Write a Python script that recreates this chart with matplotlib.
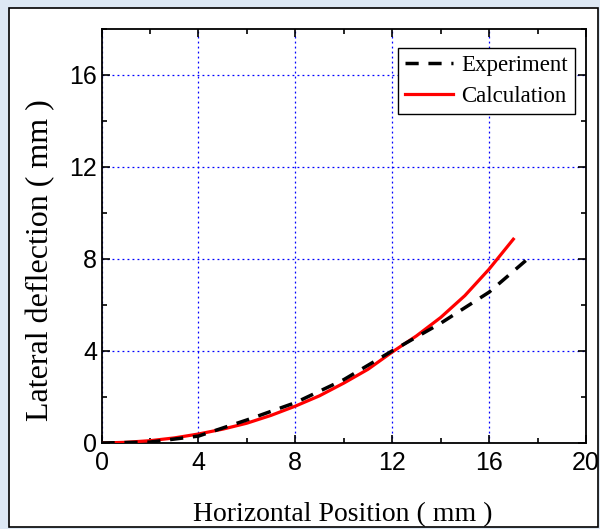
import matplotlib.pyplot as plt
from matplotlib.patches import Rectangle
from matplotlib.ticker import MultipleLocator

# measured lateral deflection vs horizontal position (mm)
exp_x = [0, 2, 4, 6, 8, 10, 12, 14, 16, 17.6]
exp_y = [0, 0.04, 0.3, 1.0, 1.75, 2.75, 4.0, 5.2, 6.55, 8.0]

# calculated deflection (mm)
calc_x = [0, 1, 2, 3, 4, 5, 6, 7, 8, 9, 10, 11, 12, 13, 14, 15, 16, 17]
calc_y = [0, 0.03, 0.1, 0.22, 0.39, 0.6, 0.86, 1.2, 1.6, 2.05, 2.6, 3.2,
          3.95, 4.65, 5.45, 6.4, 7.55, 8.85]

x_ticks = [0, 4, 8, 12, 16, 20]
y_ticks = [0, 4, 8, 12, 16]


def main():
    fig = plt.figure(figsize=(6, 5.29), dpi=100, facecolor='#dde8f4')
    # white panel with a thin black frame
    fig.patches.append(Rectangle((8.5 / 600, 2.5 / 529), 589 / 600, 519 / 529,
                                 transform=fig.transFigure, facecolor='white',
                                 edgecolor='black', linewidth=1.2, zorder=-5))

    ax = fig.add_axes([101.5 / 600, 86 / 529, 484.5 / 600, 414.5 / 529])
    ax.plot(calc_x, calc_y, color='red', lw=2.3, label='Calculation', zorder=3)
    ax.plot(exp_x, exp_y, color='black', lw=2.5, dashes=(3.8, 2.8), label='Experiment', zorder=4)

    ax.set_xlim(0, 20)
    ax.set_ylim(0, 18)
    ax.set_xticks(x_ticks)
    ax.set_yticks(y_ticks)
    ax.xaxis.set_minor_locator(MultipleLocator(2))
    ax.yaxis.set_minor_locator(MultipleLocator(2))
    ax.tick_params(which='both', direction='in', top=True, right=True, width=1.2)
    ax.tick_params(which='major', length=6, labelsize=18, pad=3)
    ax.tick_params(axis='x', which='major', pad=5.5)
    ax.tick_params(which='minor', length=3.5)
    for lbl in ax.get_xticklabels() + ax.get_yticklabels():
        lbl.set_fontfamily('Liberation Sans')
    for s in ax.spines.values():
        s.set_linewidth(1.3)
    ax.grid(True, which='major', color='blue', linestyle=(0, (1.5, 2.5)), lw=0.9)

    handles, labels = ax.get_legend_handles_labels()
    leg = ax.legend(handles[::-1], labels[::-1], loc='upper right',
                    bbox_to_anchor=(0.977, 0.953), borderaxespad=0,
                    fancybox=False, framealpha=1, edgecolor='black',
                    handlelength=2.1, handletextpad=0.35,
                    borderpad=0.3, labelspacing=0.45,
                    prop={'family': 'Liberation Serif', 'size': 16.5})
    leg.get_frame().set_linewidth(1.0)

    fig.text(343 / 600, 1 - 515 / 529, 'Horizontal Position ( mm )',
             family='Liberation Serif', fontsize=20, ha='center', va='center')
    fig.text(41 / 600, 1 - 260 / 529, 'Lateral deflection ( mm )',
             family='Liberation Serif', fontsize=23, ha='center', va='center',
             rotation=90)

    fig.savefig('out.png', dpi=100, facecolor=fig.get_facecolor())


if __name__ == "__main__":
    main()
